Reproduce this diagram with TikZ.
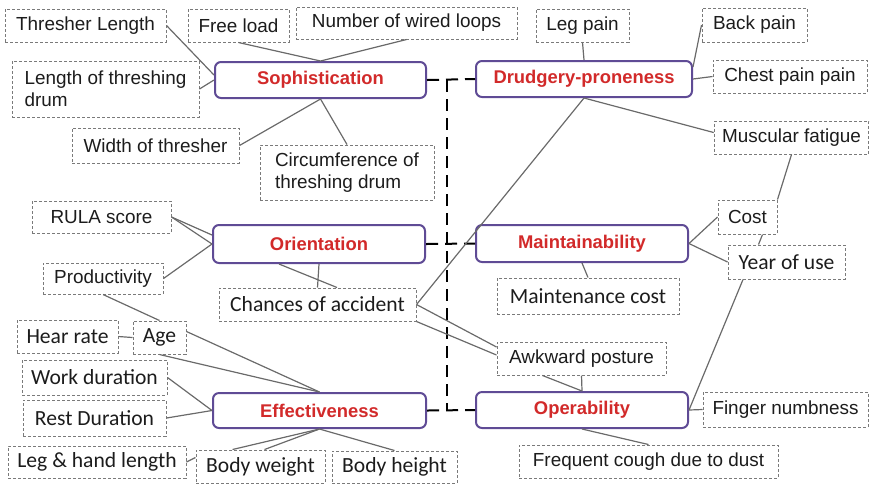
\documentclass[tikz,border=0pt]{standalone}
\usepackage{fontspec}
\setmainfont{Liberation Sans}
\newfontfamily\calibri{Carlito}
\usepackage{xcolor}
\usepackage{tikz}
\definecolor{framepurple}{HTML}{5F4B95}
\definecolor{headred}{HTML}{D22A2A}
\definecolor{boxgray}{HTML}{7A7A7A}
\definecolor{linkgray}{HTML}{6A6A6A}
\definecolor{inktext}{HTML}{1C1C1C}
\tikzset{
  factorbox/.style={draw=framepurple,line width=1pt,rounded corners=3pt,fill=white,
    text=headred,font=\fontsize{9.2}{11}\selectfont\bfseries,inner sep=0pt},
  itembox/.style={draw=boxgray,line width=0.5pt,dash pattern=on 1.5pt off 1pt,
    text=inktext,align=left,font=\fontsize{9.45}{11}\selectfont,inner xsep=4pt,inner ysep=2pt},
  itemboxc/.style={itembox,font={\calibri\fontsize{10.8}{12}\selectfont}},
  linkline/.style={draw=linkgray,line width=0.6pt},
  spineline/.style={draw=black,line width=1pt,dash pattern=on 6pt off 3.5pt}
}

\begin{document}
\begin{tikzpicture}[x=0.5pt,y=-0.5pt]
  \useasboundingbox (0,0) rectangle (870,484);
  \node[factorbox,minimum width=105.5pt,minimum height=18pt] (soph) at (320.5,80) {Sophistication};
  \node[factorbox,minimum width=108pt,minimum height=18pt] (drud) at (584,79) {Drudgery-proneness};
  \node[factorbox,minimum width=106pt,minimum height=19pt] (orient) at (319,244) {Orientation};
  \node[factorbox,minimum width=106pt,minimum height=18.5pt] (maint) at (582,243.5) {Maintainability};
  \node[factorbox,minimum width=106.5pt,minimum height=17.5pt] (effect) at (319.5,410.5) {Effectiveness};
  \node[factorbox,minimum width=106pt,minimum height=18pt] (oper) at (582,410) {Operability};
  \foreach \nm/\x/\y/\w/\h/\txt in {
      thrlen/85.5/25.5/161/33/{Thresher Length},
      freeload/238.5/25.5/101/33/{Free load},
      wired/406.5/23/221/32/{Number of wired loops},
      drumlen/105.5/89/187/56/{Length of threshing\\ drum},
      width/155.5/145.5/167/35/{Width of thresher},
      circ/347/172.5/174/55/{Circumference of\\threshing drum},
      legpain/582.5/25.5/93/33/{Leg pain},
      backpain/754.5/25/105/34/{Back pain},
      chest/790/76.5/154/33/{Chest pain pain},
      muscle/791.5/137.5/153/33/{Muscular fatigue},
      rula/101.5/217/139/32/{RULA score},
      prod/103/278.5/120/31/{Productivity},
      cost/747.5/217/59/34/{Cost},
      awk/581.5/358.5/169/33/{Awkward posture},
      finger/785.5/409.5/165/35/{Finger numbness},
      cough/648.5/461.5/259/33/{Frequent cough due to dust}}
    \node[itembox,minimum width=\w*0.5pt,minimum height=\h*0.5pt] (\nm) at (\x,\y) {\txt};
  \foreach \nm/\x/\y/\w/\h/\txt in {
      chance/317.5/304.5/197/33/{Chances of accident},
      hear/67.5/336.5/101/33/{Hear rate},
      age/159.5/337.5/53/33/{Age},
      year/786.5/262/117/34/{Year of use},
      maintcost/588/296/182/36/{Maintenance cost},
      work/94.5/377.5/145/35/{Work duration},
      rest/94.5/418/143/36/{Rest Duration},
      leghand/97/462/178/32/{Leg \& hand length},
      bweight/260.5/466.5/129/33/{Body weight},
      bheight/394.5/467/125/32/{Body height}}
    \node[itemboxc,minimum width=\w*0.5pt,minimum height=\h*0.5pt] (\nm) at (\x,\y) {\txt};

  \coordinate (spinetop) at (447,80);
  \draw[spineline] (soph.east) -- (drud.west) (orient.east) -- (maint.west)
    (effect.east) -- (oper.west);
  \draw[spineline] (spinetop) -- (spinetop |- effect.east);

  \draw[linkline] (thrlen.east) -- ([yshift=2.5pt]soph.west);
  \draw[linkline] (drumlen.east) -- (soph.west);
  \draw[linkline] (freeload.south) -- (soph.north);
  \draw[linkline] (wired.south) -- (soph.north);
  \draw[linkline] (width.east) -- (soph.south);
  \draw[linkline] (circ.north) -- (soph.south);

  \draw[linkline] (legpain.south) -- (drud.north);
  \draw[linkline] (backpain.west) -- ([yshift=6pt]drud.east);
  \draw[linkline] (chest.west) -- (drud.east);
  \draw[linkline] (drud.south) -- ([yshift=2.5pt]muscle.west);
  \draw[linkline] (drud.south) -- (chance.east);

  \draw[linkline] (rula.east) -- ([yshift=4.5pt]orient.west);
  \draw[linkline] (rula.east) -- (orient.west);
  \draw[linkline] (prod.east) -- (orient.west);
  \draw[linkline] (orient.south) -- (chance.north);
  \draw[linkline] ([xshift=-20pt]orient.south) -- ([xshift=9.75pt]chance.north);
  \draw[linkline] (chance.east) -- ([yshift=5.75pt]awk.west);
  \draw[linkline] (chance.south east) -- ([yshift=1.75pt]awk.west);

  \draw[linkline] (maint.south) -- (maintcost.north);
  \draw[linkline] (maint.east) -- (cost.west);
  \draw[linkline] (maint.east) -- (year.west);
  \draw[linkline] ([xshift=7.5pt]cost.south) -- ([xshift=-14pt]year.north);
  \draw[linkline] (muscle.south) -- (cost.north east);
  \draw[linkline] ([xshift=-21.75pt]year.south) -- (oper.east);

  \draw[linkline] (prod.south) -- (age.north);
  \draw[linkline] (hear.east) -- (age.west);
  \draw[linkline] ([yshift=3pt]age.east) -- (effect.north);
  \draw[linkline] (age.south) -- (effect.north);
  \draw[linkline] (work.east) -- (effect.west);
  \draw[linkline] (rest.east) -- (effect.west);
  \draw[linkline] (leghand.east) -- ([yshift=4.5pt]bweight.west);
  \draw[linkline] (effect.south) -- ([xshift=-14pt]bweight.north);
  \draw[linkline] (effect.south) -- ([xshift=2pt]bweight.north);
  \draw[linkline] (effect.south) -- (bheight.north);

  \draw[linkline] (awk.south) -- (oper.north);
  \draw[linkline] ([xshift=-19.5pt]awk.south) -- (oper.north);
  \draw[linkline] (oper.east) -- (finger.west);
  \draw[linkline] (oper.south) -- (cough.north);
\end{tikzpicture}
\end{document}
